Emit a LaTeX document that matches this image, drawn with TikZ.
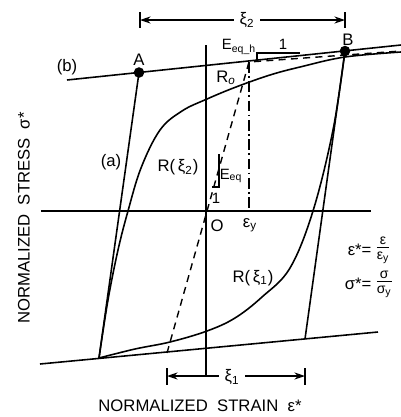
\documentclass[tikz,border=0pt]{standalone}
\usepackage{fontspec}
\setmainfont{Liberation Sans}
\usetikzlibrary{arrows.meta}
\newcommand{\myfrac}[2]{\begin{tabular}{@{}c@{}}\rule[-1.5pt]{0pt}{7pt}#1\\[-1.5pt]\hline\rule{0pt}{7pt}#2\end{tabular}}
\begin{document}
\begin{tikzpicture}[x=0.02cm,y=-0.02cm,line width=0.9pt,
  lbl/.style={inner sep=1pt,font=\fontsize{9.5}{11}\selectfont},
  sm/.style={inner sep=1pt,font=\fontsize{8.5}{10}\selectfont},
  fr/.style={inner sep=0pt,font=\fontsize{8}{9}\selectfont},
  dim/.style={line width=0.8pt,{Stealth[length=6pt,width=4pt]}-{Stealth[length=6pt,width=4pt]}},
  tick/.style={line width=0.8pt},
  dot/.style={circle,fill=black,inner sep=0pt,minimum size=6pt}]
\useasboundingbox (0,0) rectangle (401,417);
% key points
\coordinate (A) at (139,72.5);
\coordinate (B) at (345,51);
\coordinate (C1) at (99,358);
\coordinate (C2) at (305,339);
\coordinate (O) at (206,211);
\coordinate (bL) at (67,80);
\coordinate (bR) at (401,45);
\coordinate (lL) at (40,364);
\coordinate (lR) at (378,332);
\coordinate (vT) at (206,45);
\coordinate (vB) at (206,377);
\coordinate (hL) at (41,211);
\coordinate (hR) at (371,211);
\coordinate (dS) at (167,353);
\coordinate (Y) at (249,62);
\coordinate (dE) at (401,51);
\coordinate (Yb) at (249,211);
% axes
\draw (vT) -- (vB);
\draw (hL) -- (hR);
% asymptote lines
\draw (bL) -- (bR);
\draw (lL) -- (lR);
% unloading lines
\draw (A) -- (C1);
\draw (B) -- (C2);
% curves
\draw plot[smooth,tension=0.6] coordinates {(C1) (108,300) (118,250) (128,211) (141,168) (160,130) (182,111) (207,99) (236,87) (270,75) (300,67) (345,57) (401,52)};
\draw plot[smooth,tension=0.6] coordinates {(C1) (135,349) (170,342) (207,331) (235,318) (262,297) (290,268) (313,211) (333,130) (345,51)};
% bilinear dashed
\draw[dash pattern=on 4pt off 3pt,line width=0.8pt] (dS) -- (Y) -- (dE);
\draw[dash pattern=on 6pt off 2pt on 1pt off 2pt,line width=0.8pt] (Y) -- (Yb);
% slope triangles
\draw[line width=0.7pt] (212,187) -- (219,187) -- (219,154);
\draw[line width=0.7pt] (257,60) -- (257,53) -- (300,53);
% dots
\node[dot] (Ad) at (A) {};
\node[dot] (Bd) at (B) {};
% dimension lines
\draw[dim] (140,20) -- (345,20);
\draw[tick] (140,12) -- (140,28);
\draw[tick] (345,12) -- (345,28);
\node[lbl,fill=white,inner sep=3pt] (x2) at (247,20) {ξ\textsubscript{2}};
\draw[dim] (167,376) -- (305,376);
\draw[tick] (167,368) -- (167,385);
\draw[tick] (305,368) -- (305,385);
\node[lbl,fill=white,inner sep=3pt] (x1) at (232,377) {ξ\textsubscript{1}};
% labels
\node[lbl] (lb) at (67,67) {(b)};
\node[lbl] (lA) at (139,60) {A};
\node[lbl] (lB) at (348,40) {B};
\node[lbl] (la) at (111,162) {(a)};
\node[lbl] (lR2) at (178,167) {R(\,ξ\textsubscript{2})};
\node[lbl] (lR1) at (253,278) {R(\,ξ\textsubscript{1})};
\node[lbl] (lRo) at (226,78) {R\textsubscript{\itshape o}};
\node[lbl] (lO) at (217,226) {O};
\node[lbl] (ley) at (250,225) {ε\textsubscript{y}};
\node[sm] (lEq) at (231,176) {E\textsubscript{eq}};
\node[sm] (l1a) at (216,198) {1};
\node[sm] (lEqh) at (239,47) {E\textsubscript{eq\_h}};
\node[sm] (l1b) at (283,44) {1};
\node[lbl,anchor=east] (f1) at (374,250) {ε*=};
\node[fr,anchor=west] (f1b) at (376,249) {\myfrac{ε}{ε\textsubscript{y}}};
\node[lbl,anchor=east] (f2) at (374,284) {σ*=};
\node[fr,anchor=west] (f2b) at (376,283) {\myfrac{σ}{σ\textsubscript{y}}};
\node[lbl] (xl) at (200,406) {NORMALIZED\ \ STRAIN\ \ ε*};
\node[lbl,rotate=90] (yl) at (24,218) {NORMALIZED\ \ STRESS\ \ σ*};
\end{tikzpicture}
\end{document}
